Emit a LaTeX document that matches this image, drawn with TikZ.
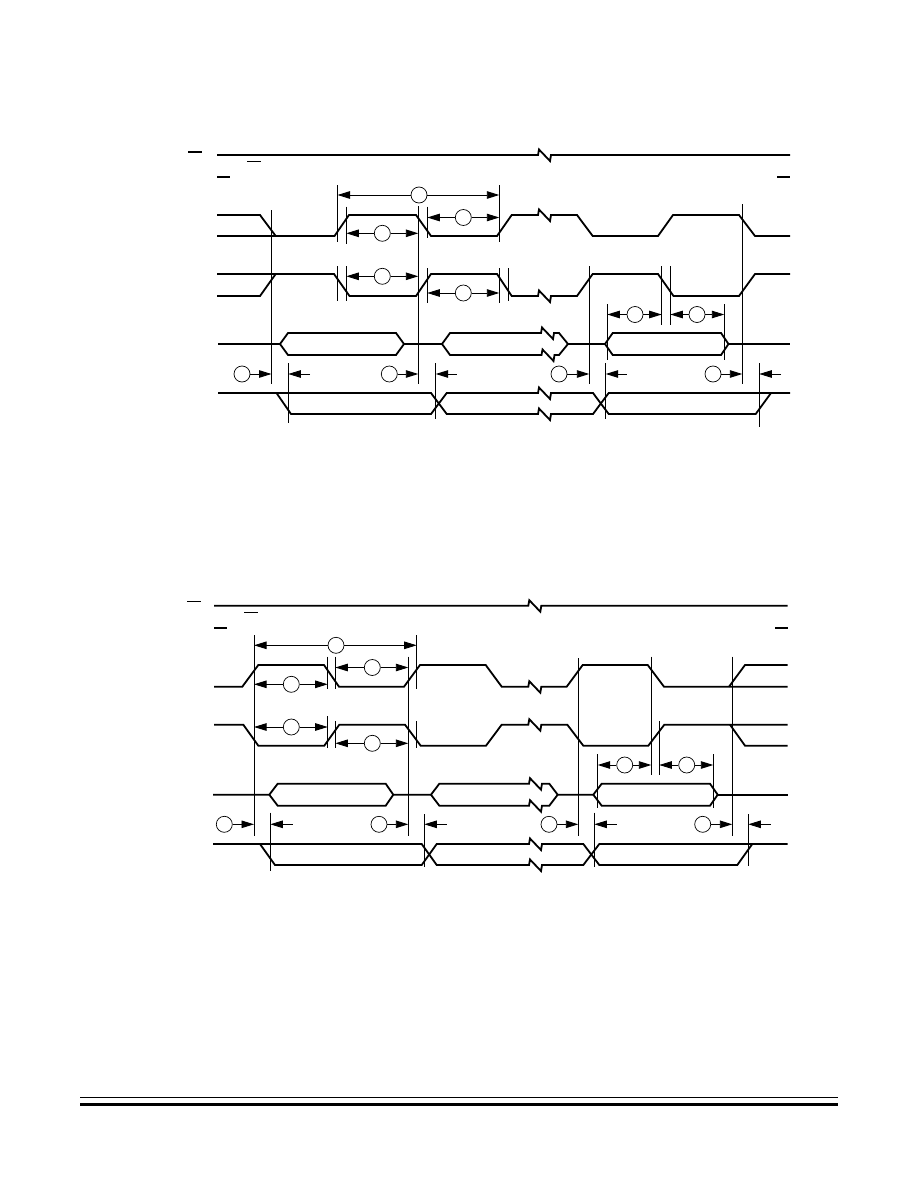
\documentclass[tikz,border=0pt]{standalone}
\usetikzlibrary{arrows.meta}
\tikzset{
  x=1pt,y=-1pt,
  sig/.style={line width=1.8pt,line join=miter,miter limit=3},
  thinbar/.style={line width=1pt},
  thickbar/.style={line width=1.8pt},
  guide/.style={line width=0.9pt},
  dimline/.style={line width=0.9pt,-{Triangle[length=12.5pt,width=7.5pt]}},
  callout/.style={circle,draw,line width=0.7pt,fill=white,minimum size=16pt,inner sep=0pt},
}
% dimension line with a circled callout: name, left x, right x, y, circle x
\newcommand\dimm[5]{%
  \node[callout] (#1) at (#5,#4) {};
  \coordinate (#1l) at (#2,#4);
  \coordinate (#1r) at (#3,#4);
  \draw[dimline] (#1) -- (#1l);
  \draw[dimline] (#1) -- (#1r);
}
% setup row: name, circle x, right tip x, left tip x, tail x, y
\newcommand\rowm[6]{%
  \node[callout] (#1) at (#2,#6) {};
  \coordinate (#1t) at (#3,#6);
  \coordinate (#1a) at (#4,#6);
  \coordinate (#1b) at (#5,#6);
  \draw[dimline] (#1) -- (#1t);
  \draw[dimline] (#1b) -- (#1a);
}
\newcommand\brk[2]{-- (#1,#2) -- (#1+1,#2-5.5) -- (#1+12,#2+6) -- (#1+13,#2)}
\newcommand\vl[3]{\draw[guide] (#1,#2) -- (#1,#3);}
\begin{document}
\begin{tikzpicture}
\useasboundingbox (0,0) rectangle (918,1188);
\fill[white] (0,0) rectangle (918,1188);

%%% ---------- upper diagram ----------
\draw[thickbar] (188,151.7) -- (202,151.7);
\draw[thinbar] (247,161) -- (261,161);
\draw[thickbar] (217,176.7) -- (230,176.7);
\draw[thickbar] (777,176.7) -- (790,176.7);
\draw[sig] (217,155) \brk{538}{155} -- (790,155);
% signal 1
\draw[sig] (217,215) -- (260,215) -- (275.7,236);
\draw[sig] (217,236) -- (334.5,236) -- (349,215) -- (416,215) -- (431,236) -- (497,236) -- (511.7,215)
  \brk{538}{215} -- (577,215) -- (592.7,236) -- (658,236) -- (673,215) -- (739,215) -- (755,236) -- (790,236);
% signal 2
\draw[sig] (217,296) -- (260,296) -- (275.7,274);
\draw[sig] (217,274) -- (334,274) -- (349.5,296) -- (416,296) -- (431,274) -- (497,274) -- (511.7,296)
  \brk{538}{296} -- (577,296) -- (592.7,274) -- (658,274) -- (673.5,296) -- (739,296) -- (755,274) -- (790,274);
% signal 3
\draw[sig] (218,344) -- (280,344) -- (288,333) -- (396,333) -- (404,344) -- (396,355) -- (288,355) -- (280,344);
\draw[sig] (404,344) -- (442,344) -- (450,333) \brk{541}{333} -- (559,333) -- (568,344) -- (605,344);
\draw[sig] (442,344) -- (450,355) \brk{541.5}{355} -- (559,355) -- (568,344);
\draw[sig] (605,344) -- (612.7,333) -- (721,333) -- (728.5,344) -- (721,355) -- (612.7,355) -- cycle;
\draw[sig] (728.5,344) -- (790,344);
% signal 4
\draw[sig] (218,393) -- (431,393) -- (446.7,414) \brk{538}{414} -- (593,414) -- (608.7,393) -- (790,393);
\draw[sig] (276.5,393) -- (291,414) -- (431,414) -- (446.7,393) \brk{538}{393} -- (593,393) -- (608.7,414) -- (755.7,414) -- (771,393);
% guides
\vl{271.5}{210}{384}
\vl{337.5}{185}{241.7} \vl{337.5}{266}{300.7}
\vl{346.3}{206.7}{244.3} \vl{346.3}{266}{300.7}
\vl{418.3}{206}{384}
\vl{427.3}{206.7}{238.3} \vl{427.3}{268}{303}
\vl{499.3}{185}{241.7} \vl{499.3}{268}{303}
\vl{508.3}{268}{301}
\vl{288.3}{363}{423}
\vl{435.7}{363}{419}
\vl{589.3}{266}{384}
\vl{605.7}{363}{419}
\vl{607.3}{304}{360}
\vl{661.7}{266}{325.3}
\vl{670.3}{266}{325.3}
\vl{724.3}{304}{360}
\vl{742.3}{204}{384}
\vl{759.3}{363}{427}
% dimensions
\dimm{a1}{337.5}{499.3}{195}{419}
\dimm{a2}{427.3}{499.3}{217.5}{463.3}
\dimm{a3}{346.3}{418.3}{233.3}{382.3}
\dimm{a4}{346.3}{418.3}{276.3}{382.3}
\dimm{a5}{427.3}{499.3}{293}{463.3}
\dimm{a6}{607.3}{661.7}{314.5}{635}
\dimm{a7}{670.3}{724.3}{314.5}{697}
\rowm{ar1}{242}{271.5}{288.3}{310}{374}
\rowm{ar2}{389.3}{418.3}{435.7}{456.7}{374}
\rowm{ar3}{559}{589.3}{605.7}{626.7}{374}
\rowm{ar4}{713}{742.3}{759.3}{781}{374}

%%% ---------- lower diagram ----------
\draw[thinbar] (187,601.7) -- (201,601.7);
\draw[thinbar] (244,612.3) -- (258,612.3);
\draw[thickbar] (214,627.7) -- (226.7,627.7);
\draw[thickbar] (775,627.7) -- (787.7,627.7);
\draw[sig] (214,605.7) \brk{528.3}{605.7} -- (787.7,605.7);
% signal 1
\draw[sig] (214,686.7) -- (242.3,686.7) -- (258.3,665) -- (324,665) -- (339,686.7) -- (404,686.7) -- (420,665) -- (485.7,665) -- (501.7,686.7)
  \brk{528.3}{686.7} -- (566.7,686.7) -- (582.7,665) -- (647.7,665) -- (664,686.7) -- (787.7,686.7);
\draw[sig] (729,686.7) -- (745,665) -- (787.7,665);
% signal 2
\draw[sig] (214,724.7) -- (243.3,724.7) -- (258.3,745.7) -- (324.3,745.7) -- (339.3,724.7) -- (405,724.7) -- (420.7,745.7) -- (486,745.7) -- (501.7,724.7)
  \brk{528.3}{724.7} -- (567.3,724.7) -- (583.3,745.7) -- (648.3,745.7) -- (664.3,724.7) -- (787.7,724.7);
\draw[sig] (730,724.7) -- (745,745.7) -- (787.7,745.7);
% signal 3
\draw[sig] (213,794.7) -- (269.3,794.7) -- (277.7,783.7) -- (385.7,783.7) -- (393.3,794.7) -- (385.7,805.7) -- (277.7,805.7) -- (269.3,794.7);
\draw[sig] (393.3,794.7) -- (431,794.7) -- (439.3,783.7) \brk{529}{783.7} -- (549.3,783.7) -- (557.7,794.7) -- (593.3,794.7);
\draw[sig] (431,794.7) -- (439.3,805.7) \brk{529}{805.7} -- (549.3,805.7) -- (557.7,794.7);
\draw[sig] (593.3,794.7) -- (601.7,783.7) -- (710,783.7) -- (717.7,794.7) -- (710,805.7) -- (601.7,805.7) -- cycle;
\draw[sig] (717.7,794.7) -- (787.7,794.7);
% signal 4
\draw[sig] (213,844) -- (421.7,844) -- (436.7,865) \brk{529}{865} -- (583.3,865) -- (599.3,844) -- (787.7,844);
\draw[sig] (260,844) -- (275,865) -- (421.7,865) -- (436.7,844) \brk{529}{844} -- (583.3,844) -- (599.3,865) -- (737.3,865) -- (752.3,844);
% guides
\vl{254}{635}{835.7}
\vl{327.7}{656.7}{689} \vl{327.7}{716}{748.3}
\vl{335.3}{656.7}{689} \vl{335.3}{721}{748.3}
\vl{408.3}{656.7}{835.7}
\vl{416.7}{635}{689} \vl{416.7}{721}{748.3}
\vl{270.3}{812.7}{870.7}
\vl{424.3}{814}{867.3}
\vl{578.3}{658.3}{835.7}
\vl{594.3}{812.7}{867.3}
\vl{597.7}{754}{808.3}
\vl{651.3}{656.7}{775.3}
\vl{659.3}{721}{775.3}
\vl{713.3}{754}{808.3}
\vl{732.3}{656.7}{835.7}
\vl{748.3}{814}{865.7}
% dimensions
\dimm{b1}{254}{416.7}{645.3}{336}
\dimm{b2}{335.3}{408.3}{667.5}{372.3}
\dimm{b3}{254}{327.7}{684.3}{291.3}
\dimm{b4}{254}{327.7}{727}{291.3}
\dimm{b5}{335.3}{408.3}{743.3}{372.3}
\dimm{b6}{597.7}{651.3}{765}{624.7}
\dimm{b7}{659.3}{713.3}{765}{686.7}
\rowm{br1}{224.3}{254}{270.3}{292.7}{824.3}
\rowm{br2}{379}{408.3}{424.3}{446.7}{824.3}
\rowm{br3}{549}{578.3}{594.3}{616.7}{824.3}
\rowm{br4}{702.7}{732.3}{748.3}{770.7}{824.3}

%%% ---------- footer rules ----------
\draw[line width=1pt] (80.4,1097.3) -- (838,1097.3);
\draw[line width=3.3pt] (80.4,1104.3) -- (838,1104.3);
\end{tikzpicture}
\end{document}
